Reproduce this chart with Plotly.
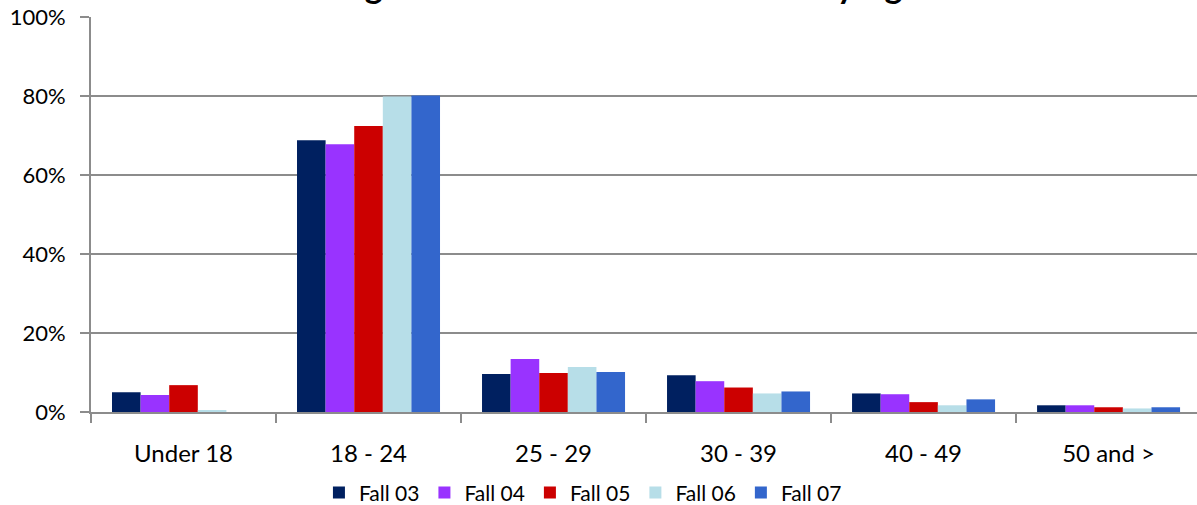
import plotly.graph_objects as go

# ---- data ----
age_groups = ["Under 18", "18 - 24", "25 - 29", "30 - 39", "40 - 49", "50 and >"]

fall_03 = [0.050, 0.688, 0.096, 0.093, 0.047, 0.017]
fall_04 = [0.043, 0.678, 0.134, 0.078, 0.045, 0.017]
fall_05 = [0.068, 0.724, 0.099, 0.062, 0.025, 0.012]
fall_06 = [0.004, 0.799, 0.114, 0.047, 0.017, 0.009]
fall_07 = [0.000, 0.801, 0.101, 0.052, 0.032, 0.012]

series_names = ["Fall 03", "Fall 04", "Fall 05", "Fall 06", "Fall 07"]
series_values = [fall_03, fall_04, fall_05, fall_06, fall_07]
series_colors = ["#002060", "#9933FF", "#CC0000", "#B7DEE8", "#3366CC"]

# title sits mostly above the visible area, only descenders show
title_text = "Percentage of Students Enrolled in Fall by Age"

FONT = "Lato, 'Open Sans', sans-serif"
AXIS_GRAY = "#8C8C8C"


fig = go.Figure()

for name, values, color in zip(series_names, series_values, series_colors):
    fig.add_trace(
        go.Bar(
            name=name,
            x=age_groups,
            y=values,
            marker=dict(color=color, line=dict(width=0)),
        )
    )

fig.update_layout(
    width=1197,
    height=505,
    barmode="group",
    bargap=0.227,
    bargroupgap=0,
    paper_bgcolor="white",
    plot_bgcolor="white",
    margin=dict(l=91, r=0, t=17, b=93, autoexpand=False),
    font=dict(family=FONT, size=21, color="black"),
    title=dict(
        text=title_text,
        font=dict(family=FONT, size=34, color="black", weight="bold"),
        xref="container",
        x=0.481,
        xanchor="center",
        yref="container",
        y=1.0,
        yanchor="bottom",
        pad=dict(b=2),
    ),
    legend=dict(
        orientation="h",
        xref="container",
        x=0.487,
        xanchor="center",
        yref="container",
        y=0.024,
        yanchor="middle",
        font=dict(family=FONT, size=21),
        itemwidth=30,
        traceorder="normal",
    ),
)

fig.update_xaxes(
    range=[-0.5, 5.478],
    automargin=False,
    showgrid=False,
    showline=True,
    linecolor=AXIS_GRAY,
    linewidth=2,
    ticks="outside",
    tickson="boundaries",
    ticklen=9,
    tickwidth=2,
    tickcolor=AXIS_GRAY,
    ticklabelstandoff=19,
    tickfont=dict(family=FONT, size=24),
)

fig.update_yaxes(
    range=[0, 1],
    dtick=0.2,
    tickformat=".0%",
    automargin=False,
    showgrid=True,
    gridcolor=AXIS_GRAY,
    gridwidth=2,
    zeroline=False,
    showline=True,
    linecolor=AXIS_GRAY,
    linewidth=2,
    ticks="outside",
    ticklen=9,
    tickwidth=2,
    tickcolor=AXIS_GRAY,
    ticklabelstandoff=10,
    tickfont=dict(family=FONT, size=22),
)

# drop the default 8px page margin so the figure fills the window exactly
fig.write_html(
    "out.html",
    config={"displayModeBar": False},
    post_script="document.body.style.margin='0';",
)
